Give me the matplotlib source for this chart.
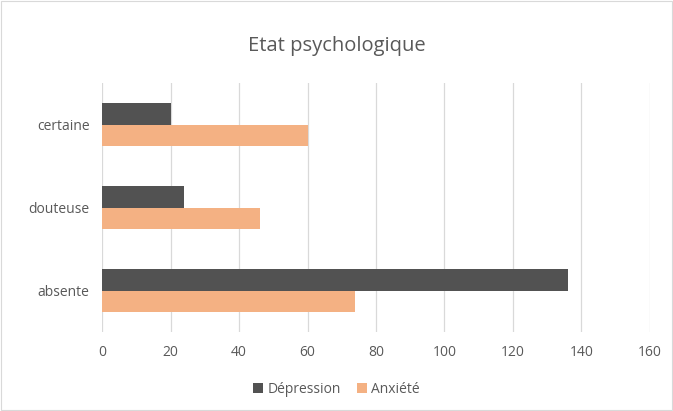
import matplotlib.pyplot as plt
import numpy as np

# Data
categories = ["absente", "douteuse", "certaine"]
depression = [136, 24, 20]
anxiete = [74, 46, 60]
xticks = [0, 20, 40, 60, 80, 100, 120, 140, 160]

plt.rcParams['font.family'] = ['Open Sans', 'DejaVu Sans']

fig = plt.figure(figsize=(6.73, 4.11), dpi=100)
ax = fig.add_axes([0.1516, 0.192, 0.8142, 0.606])

y = np.arange(len(categories))
h = 0.26
ax.barh(y + h / 2, depression, height=h, color="#525252", label="Dépression", zorder=3)
ax.barh(y - h / 2, anxiete, height=h, color="#F4B183", label="Anxiété", zorder=3)

ax.set_xlim(0, 160)
ax.set_ylim(-0.5, 2.5)
ax.set_xticks(xticks)
ax.set_yticks(y)
ax.set_yticklabels(categories)
ax.tick_params(length=0, labelsize=10, colors="#595959", pad=9)
ax.grid(axis="x", color="#D9D9D9", linewidth=0.9, zorder=0)
for s in ax.spines.values():
    s.set_visible(False)

fig.text(0.5, 0.888, "Etat psychologique", ha="center", va="center",
         fontsize=14.5, color="#595959")

fig.legend(loc="center", bbox_to_anchor=(0.5, 0.053), ncol=2, frameon=False,
           fontsize=10, labelcolor="#595959", handlelength=0.7, handleheight=0.7,
           handletextpad=0.3, columnspacing=1.2)

# chart border
fig.patches.append(plt.Rectangle((0.002, 0.002), 0.996, 0.996, transform=fig.transFigure,
                                 fill=False, edgecolor="#D9D9D9", linewidth=0.8))

fig.savefig("out.png", dpi=100)
